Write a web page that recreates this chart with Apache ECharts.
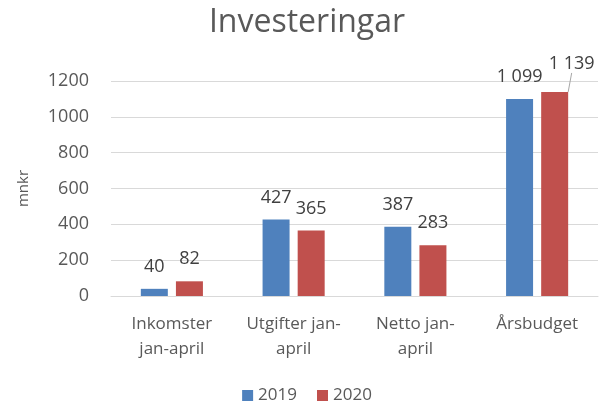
<!DOCTYPE html>
<html>
<head>
<meta charset="utf-8" />
<title>Investeringar</title>
<script src="https://cdn.jsdelivr.net/npm/echarts@6/dist/echarts.min.js"></script>
</head>
<body style="margin:0;background:#fff;">
<div id="chart" style="width:614px;height:409px;"></div>
<script type="text/javascript">
var categories = ['Inkomster\njan-april', 'Utgifter jan-\napril', 'Netto jan-\napril', 'Årsbudget'];
var values2019 = [40, 427, 387, 1099];
var values2020 = [82, 365, 283, 1139];
var yTicks = [0, 200, 400, 600, 800, 1000, 1200];

function fmt(v) {
	return String(v).replace(/\B(?=(\d{3})+(?!\d))/g, ' ');
}

var font = '"Open Sans", "Liberation Sans", sans-serif';
var labelStyle = {
	show: true,
	position: 'top',
	distance: 13,
	fontFamily: font,
	fontSize: 18,
	color: '#404040',
	formatter: function (p) { return fmt(p.value); }
};

var data2020 = values2020.map(function (v, i) {
	if (i == 3) {
		return {
			value: v,
			labelLine: { show: true, lineStyle: { color: '#a6a6a6', width: 1 } }
		};
	}
	return v;
});

var chart = echarts.init(document.getElementById('chart'));
chart.setOption({
	animation: false,
	title: {
		text: 'Investeringar',
		left: 'center',
		top: 2,
		textStyle: { fontFamily: font, fontSize: 32, fontWeight: 'normal', color: '#595959' }
	},
	legend: {
		bottom: 0,
		left: 'center',
		itemWidth: 11,
		itemHeight: 11,
		itemGap: 20,
		icon: 'rect',
		textStyle: { fontFamily: font, fontSize: 17, color: '#595959' }
	},
	grid: { left: 111, right: 16, top: 81, bottom: 113 },
	xAxis: {
		type: 'category',
		data: categories,
		axisLine: { lineStyle: { color: '#d9d9d9' } },
		axisTick: { show: false },
		axisLabel: { fontFamily: font, fontSize: 17, color: '#595959', lineHeight: 25, margin: 16, interval: 0 }
	},
	yAxis: {
		type: 'value',
		min: yTicks[0],
		max: yTicks[yTicks.length - 1],
		interval: 200,
		name: 'mnkr',
		nameLocation: 'middle',
		nameGap: 80,
		nameRotate: 90,
		nameTextStyle: { fontFamily: font, fontSize: 15, color: '#595959' },
		axisLine: { show: false },
		axisTick: { show: false },
		axisLabel: { fontFamily: font, fontSize: 18, color: '#595959', margin: 22, formatter: function (v) { return String(v); } },
		splitLine: { lineStyle: { color: '#d9d9d9', width: 1 } }
	},
	series: [
		{
			name: '2019',
			type: 'bar',
			data: values2019,
			barWidth: 27,
			barGap: '30%',
			itemStyle: { color: '#4f81bd' },
			label: labelStyle
		},
		{
			name: '2020',
			type: 'bar',
			data: data2020,
			barWidth: 27,
			barGap: '30%',
			itemStyle: { color: '#c0504d' },
			label: labelStyle,
			labelLayout: function (p) {
				if (p.dataIndex == 3) {
					return { dx: 17, dy: -6 };
				}
				return {};
			}
		}
	]
});
</script>
</body>
</html>
